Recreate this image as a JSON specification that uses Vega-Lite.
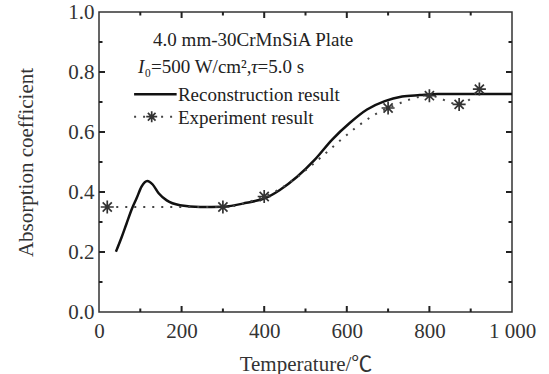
{
  "$schema": "https://vega.github.io/schema/vega-lite/v6.json",
  "autosize": {"type": "none"},
  "width": 413,
  "height": 300,
  "padding": {"left": 99, "top": 12, "right": 37, "bottom": 62},
  "background": "white",
  "config": {
    "view": {"stroke": "#333", "strokeWidth": 1.5},
    "font": "Liberation Serif",
    "axis": {
      "domainColor": "#333", "domainWidth": 1.5, "ticks": false, "grid": false,
      "labelFont": "Liberation Serif", "labelFontSize": 21, "labelColor": "#333",
      "titleFont": "Liberation Serif, Noto Sans CJK SC", "titleFontSize": 21, "titleFontWeight": "normal", "titleColor": "#333"
    }
  },
  "datasets": {
    "reco": [
      {"t": 41, "v": 0.201}, {"t": 55, "v": 0.25}, {"t": 67, "v": 0.296}, {"t": 80, "v": 0.345},
      {"t": 91, "v": 0.379}, {"t": 103, "v": 0.418}, {"t": 117, "v": 0.437}, {"t": 130, "v": 0.425},
      {"t": 145, "v": 0.395}, {"t": 164, "v": 0.372}, {"t": 196, "v": 0.356}, {"t": 245, "v": 0.35},
      {"t": 300, "v": 0.351}, {"t": 357, "v": 0.364}, {"t": 403, "v": 0.38}, {"t": 437, "v": 0.406},
      {"t": 479, "v": 0.45}, {"t": 522, "v": 0.507}, {"t": 564, "v": 0.574}, {"t": 607, "v": 0.63},
      {"t": 649, "v": 0.675}, {"t": 692, "v": 0.703}, {"t": 734, "v": 0.718}, {"t": 777, "v": 0.723},
      {"t": 820, "v": 0.727}, {"t": 1000, "v": 0.727}
    ],
    "exp": [
      {"t": 20, "v": 0.35}, {"t": 300, "v": 0.35}, {"t": 400, "v": 0.385}, {"t": 700, "v": 0.68},
      {"t": 800, "v": 0.721}, {"t": 872, "v": 0.692}, {"t": 921, "v": 0.743}
    ],
    "xmajor": [{"t": 200}, {"t": 400}, {"t": 600}, {"t": 800}],
    "xminor": [{"t": 100}, {"t": 300}, {"t": 500}, {"t": 700}, {"t": 900}],
    "ymajor": [{"v": 0.2}, {"v": 0.4}, {"v": 0.6}, {"v": 0.8}],
    "yminor": [{"v": 0.1}, {"v": 0.3}, {"v": 0.5}, {"v": 0.7}, {"v": 0.9}]
  },
  "layer": [
    {
      "data": {"name": "reco"},
      "mark": {"type": "line", "interpolate": "monotone", "color": "#111", "strokeWidth": 2.5},
      "encoding": {
        "x": {"field": "t", "type": "quantitative", "scale": {"domain": [0, 1000], "nice": false},
          "axis": {"orient": "bottom", "title": "Temperature/℃", "values": [0,200,400,600,800,1000],
            "labelExpr": "datum.value === 1000 ? '1 000' : datum.label", "domain": false,
            "labelPadding": 8, "titlePadding": 12, "labelFlush": false}},
        "y": {"field": "v", "type": "quantitative", "scale": {"domain": [0, 1], "nice": false},
          "axis": {"orient": "left", "title": "Absorption coefficient", "values": [0,0.2,0.4,0.6,0.8,1],
            "format": ".1f", "domain": false,
            "labelPadding": 5, "titlePadding": 31, "labelFlush": false}}
      }
    },
    {
      "data": {"name": "xmajor"},
      "mark": {"type": "rule", "color": "#222", "strokeWidth": 2, "strokeDash": [6, 288, 6]},
      "encoding": {
        "x": {"field": "t", "type": "quantitative", "axis": null},
        "y": {"datum": 0, "type": "quantitative", "axis": null},
        "y2": {"datum": 1}
      }
    },
    {
      "data": {"name": "xminor"},
      "mark": {"type": "rule", "color": "#222", "strokeWidth": 2, "strokeDash": [3.5, 293, 3.5]},
      "encoding": {
        "x": {"field": "t", "type": "quantitative", "axis": null},
        "y": {"datum": 0, "type": "quantitative", "axis": null},
        "y2": {"datum": 1}
      }
    },
    {
      "data": {"name": "ymajor"},
      "mark": {"type": "rule", "color": "#222", "strokeWidth": 2, "strokeDash": [6, 401, 6]},
      "encoding": {
        "y": {"field": "v", "type": "quantitative", "axis": null},
        "x": {"datum": 0, "type": "quantitative", "axis": null},
        "x2": {"datum": 1000}
      }
    },
    {
      "data": {"name": "yminor"},
      "mark": {"type": "rule", "color": "#222", "strokeWidth": 2, "strokeDash": [3.5, 406, 3.5]},
      "encoding": {
        "y": {"field": "v", "type": "quantitative", "axis": null},
        "x": {"datum": 0, "type": "quantitative", "axis": null},
        "x2": {"datum": 1000}
      }
    },
    {
      "data": {"name": "exp"},
      "mark": {"type": "line", "interpolate": "monotone", "color": "#444", "strokeWidth": 2, "strokeDash": [2, 7]},
      "encoding": {
        "x": {"field": "t", "type": "quantitative", "axis": null},
        "y": {"field": "v", "type": "quantitative", "axis": null}
      }
    },
    {
      "data": {"name": "exp"},
      "mark": {"type": "point", "shape": "M-1,0H1M0,-1V1M-0.7,-0.7L0.7,0.7M-0.7,0.7L0.7,-0.7", "size": 170, "color": "#333", "strokeWidth": 1.7, "filled": false, "opacity": 1},
      "encoding": {
        "x": {"field": "t", "type": "quantitative", "axis": null},
        "y": {"field": "v", "type": "quantitative", "axis": null}
      }
    },
    {
      "data": {"values": [{"t": 85, "t2": 188, "v": 0.726}]},
      "mark": {"type": "rule", "color": "#111", "strokeWidth": 2.5},
      "encoding": {
        "x": {"field": "t", "type": "quantitative", "axis": null},
        "x2": {"field": "t2"},
        "y": {"field": "v", "type": "quantitative", "axis": null}
      }
    },
    {
      "data": {"values": [{"t": 85, "t2": 182, "v": 0.651}]},
      "mark": {"type": "rule", "color": "#444", "strokeWidth": 2, "strokeDash": [2, 7]},
      "encoding": {
        "x": {"field": "t", "type": "quantitative", "axis": null},
        "x2": {"field": "t2"},
        "y": {"field": "v", "type": "quantitative", "axis": null}
      }
    },
    {
      "data": {"values": [{"t": 127.6, "v": 0.651}]},
      "mark": {"type": "point", "shape": "M-1,0H1M0,-1V1M-0.7,-0.7L0.7,0.7M-0.7,0.7L0.7,-0.7", "size": 120, "color": "#333", "strokeWidth": 1.7, "filled": false, "opacity": 1},
      "encoding": {
        "x": {"field": "t", "type": "quantitative", "axis": null},
        "y": {"field": "v", "type": "quantitative", "axis": null}
      }
    },
    {
      "data": {"values": [
        {"t": 131, "v": 0.887, "label": "4.0 mm-30CrMnSiA Plate"},
        {"t": 191, "v": 0.703, "label": "Reconstruction result"},
        {"t": 191, "v": 0.628, "label": "Experiment result"}
      ]},
      "mark": {"type": "text", "align": "left", "baseline": "alphabetic", "fontSize": 19, "font": "Liberation Serif", "color": "#222"},
      "encoding": {
        "x": {"field": "t", "type": "quantitative", "axis": null},
        "y": {"field": "v", "type": "quantitative", "axis": null},
        "text": {"field": "label"}
      }
    },
    {
      "data": {"values": [
        {"t": 94.4, "v": 0.797, "label": "I"},
        {"t": 368, "v": 0.797, "label": "τ"}
      ]},
      "mark": {"type": "text", "align": "left", "baseline": "alphabetic", "fontSize": 19, "font": "Liberation Serif", "fontStyle": "italic", "color": "#222"},
      "encoding": {
        "x": {"field": "t", "type": "quantitative", "axis": null},
        "y": {"field": "v", "type": "quantitative", "axis": null},
        "text": {"field": "label"}
      }
    },
    {
      "data": {"values": [
        {"t": 110, "v": 0.797, "label": "₀=500 W/cm²,"},
        {"t": 384, "v": 0.797, "label": "=5.0 s"}
      ]},
      "mark": {"type": "text", "align": "left", "baseline": "alphabetic", "fontSize": 19, "font": "Liberation Serif", "color": "#222"},
      "encoding": {
        "x": {"field": "t", "type": "quantitative", "axis": null},
        "y": {"field": "v", "type": "quantitative", "axis": null},
        "text": {"field": "label"}
      }
    }
  ],
  "resolve": {"axis": {"x": "independent", "y": "independent"}}
}
